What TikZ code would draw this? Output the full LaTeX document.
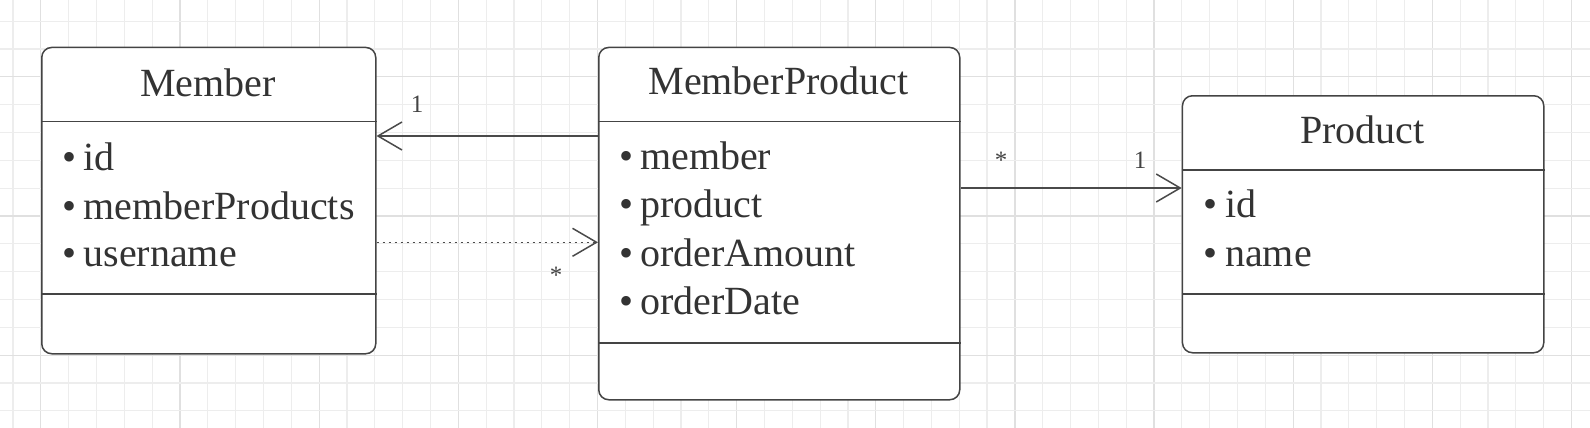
\documentclass[tikz,border=0pt]{standalone}
\usepackage{fontspec}
\setmainfont{Liberation Serif}
\usetikzlibrary{arrows.meta}
\definecolor{txt}{HTML}{333333}
\definecolor{edge}{HTML}{444444}
\definecolor{conn}{HTML}{4A4A4A}
\definecolor{gridminor}{HTML}{EDEDED}
\definecolor{gridmajor}{HTML}{E0E0E0}
\tikzset{
  classbox/.style={draw=edge, line width=1.5pt, fill=white, rounded corners=10pt, inner sep=0pt, anchor=north west},
  divline/.style={draw=edge, line width=1.4pt},
  titletext/.style={text=txt, font=\fontsize{40}{48}\selectfont, inner sep=0pt, anchor=base},
  attrtext/.style={text=txt, font=\fontsize{40}{48}\selectfont, inner sep=0pt, anchor=base west},
  bullettext/.style={text=txt, font=\fontsize{40}{48}\selectfont, inner sep=0pt, anchor=base},
  multlabel/.style={text=edge, font=\fontsize{25}{30}\selectfont, inner sep=0pt, anchor=base},
  assoc/.style={draw=conn, line width=1.8pt, -{Straight Barb[length=24pt, width=28pt, line width=1.5pt]}},
  depend/.style={draw=conn, line width=1.6pt, dash pattern=on 2pt off 4pt, -{Straight Barb[length=24pt, width=28pt, line width=1.5pt]}},
}
\begin{document}
\begin{tikzpicture}[x=1pt, y=-1pt]
\useasboundingbox (0,0) rectangle (1590,428);
\fill[white] (0,0) rectangle (1590,428);
% grid
\foreach \i in {-6,...,50} {
  \pgfmathtruncatemacro{\m}{mod(\i+100,5)}
  \ifnum\m=0
    \draw[gridmajor, line width=1.2pt] ({180+\i*27.83},0) -- ({180+\i*27.83},428);
  \else
    \draw[gridminor, line width=1.2pt] ({180+\i*27.83},0) -- ({180+\i*27.83},428);
  \fi
}
\foreach \j in {-7,...,7} {
  \pgfmathtruncatemacro{\m}{mod(\j+100,5)}
  \ifnum\m=0
    \draw[gridmajor, line width=1.2pt] (0,{216+\j*27.83}) -- (1590,{216+\j*27.83});
  \else
    \draw[gridminor, line width=1.2pt] (0,{216+\j*27.83}) -- (1590,{216+\j*27.83});
  \fi
}

% Member
\node[classbox, minimum width=334pt, minimum height=306.3pt] (member) at (41,46.7) {};
\draw[divline] (member.west |- 0,121.7) -- (member.east |- 0,121.7);
\draw[divline] (member.west |- 0,294) -- (member.east |- 0,294);
\node[titletext] (memberT) at (208,96) {Member};
\node[bullettext] (mb1) at (70,170.7) {•};
\node[attrtext] (ma1) at (83.3,170.7) {id};
\node[bullettext] (mb2) at (70,219.3) {•};
\node[attrtext] (ma2) at (83.3,219.3) {memberProducts};
\node[bullettext] (mb3) at (70,266.7) {•};
\node[attrtext] (ma3) at (83.3,266.7) {username};

% MemberProduct
\node[classbox, minimum width=361pt, minimum height=352.3pt] (mp) at (598,46.7) {};
\draw[divline] (mp.west |- 0,121.7) -- (mp.east |- 0,121.7);
\draw[divline] (mp.west |- 0,343) -- (mp.east |- 0,343);
\node[titletext] (mpT) at (778.5,95) {MemberProduct};
\node[bullettext] (pb1) at (626.7,169.3) {•};
\node[attrtext] (pa1) at (640,169.3) {member};
\node[bullettext] (pb2) at (626.7,217.5) {•};
\node[attrtext] (pa2) at (640,217.5) {product};
\node[bullettext] (pb3) at (626.7,266.2) {•};
\node[attrtext] (pa3) at (640,266.2) {orderAmount};
\node[bullettext] (pb4) at (626.7,314.5) {•};
\node[attrtext] (pa4) at (640,314.5) {orderDate};

% Product
\node[classbox, minimum width=361.3pt, minimum height=257pt] (product) at (1181.7,95) {};
\draw[divline] (product.west |- 0,170) -- (product.east |- 0,170);
\draw[divline] (product.west |- 0,294) -- (product.east |- 0,294);
\node[titletext] (productT) at (1362.5,143.5) {Product};
\node[bullettext] (qb1) at (1210.7,217.5) {•};
\node[attrtext] (qa1) at (1225,217.5) {id};
\node[bullettext] (qb2) at (1210.7,266.5) {•};
\node[attrtext] (qa2) at (1225,266.5) {name};

% connectors
\draw[assoc] (mp.west |- 0,136) -- (member.east |- 0,136);
\draw[depend] (member.east |- 0,242.3) -- (mp.west |- 0,242.3);
\draw[assoc] (mp.east |- 0,188) -- (product.west |- 0,188);

% multiplicities
\node[multlabel] (l1) at (417,112) {1};
\node[multlabel] (l2) at (556,283) {*};
\node[multlabel] (l3) at (1001,168) {*};
\node[multlabel] (l4) at (1140,168) {1};
\end{tikzpicture}
\end{document}
